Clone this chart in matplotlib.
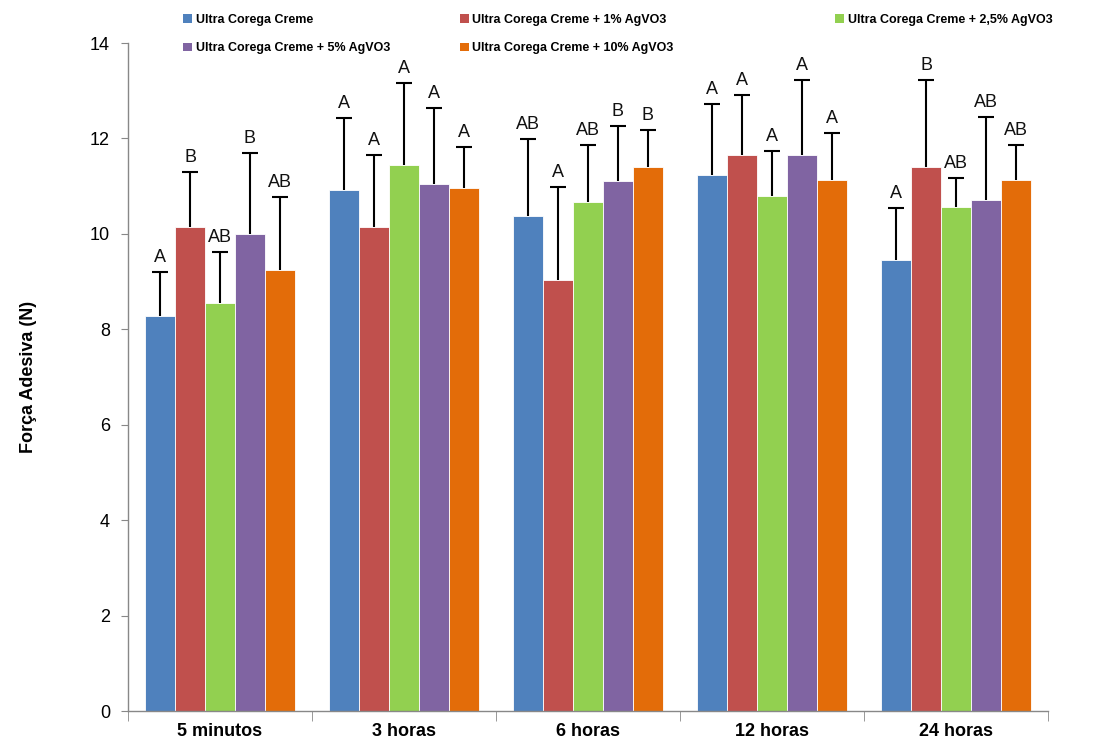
import matplotlib
matplotlib.use("Agg")
import matplotlib.pyplot as plt
import numpy as np
from matplotlib.patches import Patch

plt.rcParams['font.family'] = ['Liberation Sans', 'DejaVu Sans']

groups = ["5 minutos", "3 horas", "6 horas", "12 horas", "24 horas"]
series = ["Ultra Corega Creme",
          "Ultra Corega Creme + 1% AgVO3",
          "Ultra Corega Creme + 2,5% AgVO3",
          "Ultra Corega Creme + 5% AgVO3",
          "Ultra Corega Creme + 10% AgVO3"]
colors = ["#4F81BD", "#C0504D", "#92D050", "#8064A2", "#E36C09"]

means = [
    [8.28, 10.92, 10.37, 11.23, 9.45],
    [10.14, 10.14, 9.03, 11.65, 11.40],
    [8.55, 11.44, 10.67, 10.79, 10.56],
    [10.00, 11.05, 11.11, 11.65, 10.71],
    [9.24, 10.96, 11.40, 11.13, 11.13],
]
sds = [
    [0.92, 1.51, 1.62, 1.49, 1.09],
    [1.16, 1.51, 1.95, 1.26, 1.83],
    [1.07, 1.72, 1.19, 0.95, 0.61],
    [1.70, 1.59, 1.15, 1.58, 1.74],
    [1.53, 0.86, 0.78, 0.98, 0.73],
]
letters = [
    ["A", "A", "AB", "A", "A"],
    ["B", "A", "A", "A", "B"],
    ["AB", "A", "AB", "A", "AB"],
    ["B", "A", "B", "A", "AB"],
    ["AB", "A", "B", "A", "AB"],
]

fig = plt.figure(figsize=(10.98, 7.46), dpi=100)
ax = fig.add_axes([128/1098, 35/746, (1048-128)/1098, (711-43)/746])

x = np.arange(len(groups))
w = 0.163
for i in range(len(series)):
    pos = x + (i - 2) * w
    ax.bar(pos, means[i], width=w, color=colors[i], edgecolor='white', linewidth=0.6, zorder=2)
    eb = ax.errorbar(pos, means[i], yerr=[np.zeros(len(groups)), sds[i]], fmt='none',
                     ecolor='black', elinewidth=1.5, capsize=6, capthick=1.5, zorder=3)
    eb[1][0].set_visible(False)
    for j in range(len(groups)):
        ax.text(pos[j], means[i][j] + sds[i][j] + 0.12, letters[i][j], ha='center', va='bottom',
                fontsize=13, color='#111111')

ax.set_xlim(-0.5, len(groups) - 0.5)
ax.set_ylim(0, 14)
ax.set_yticks(np.arange(0, 15, 2))
ax.tick_params(axis='y', labelsize=13, length=5, color='#888888', direction='out', pad=8)
ax.set_xticks(x)
ax.set_xticklabels(groups, fontsize=13, fontweight='bold')
ax.set_xticks(np.arange(-0.5, len(groups), 1), minor=True)
ax.tick_params(axis='x', which='major', length=0, pad=9)
ax.tick_params(axis='x', which='minor', length=7, color='#888888')
for s in ['top', 'right']:
    ax.spines[s].set_visible(False)
for s in ['left', 'bottom']:
    ax.spines[s].set_color('#888888')
    ax.spines[s].set_linewidth(1.0)
ax.set_ylabel("Força Adesiva (N)", fontsize=13, fontweight='bold', labelpad=38)

handles = [Patch(facecolor=c) for c in colors]
cols = [([0, 3], 183), ([1, 4], 460), ([2], 835)]
for idx, xp in cols:
    fig.legend([handles[k] for k in idx], [series[k] for k in idx],
               loc='upper left', bbox_to_anchor=(xp/1098, 1 - 14/746), frameon=False,
               prop={'size': 9, 'weight': 'bold'}, handlelength=0.7, handleheight=0.7,
               handletextpad=0.3, labelspacing=1.3, borderaxespad=0, borderpad=0)

fig.savefig("out.png", dpi=100)
